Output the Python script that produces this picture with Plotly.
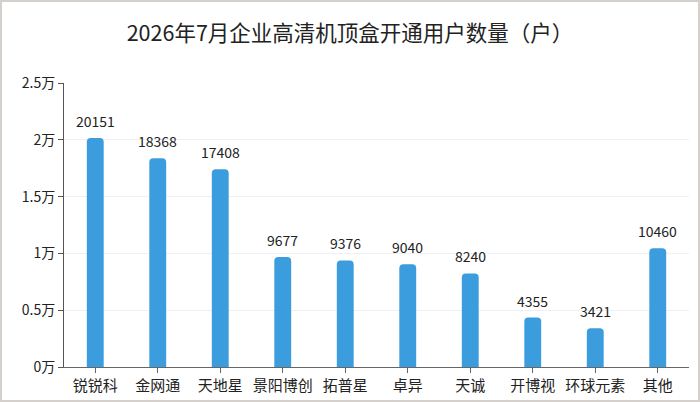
import plotly.graph_objects as go

# 企业高清机顶盒开通用户数量
companies = ['锐锐科', '金网通', '天地星', '景阳博创', '拓普星', '卓异', '天诚', '开博视', '环球元素', '其他']
users = [20151, 18368, 17408, 9677, 9376, 9040, 8240, 4355, 3421, 10460]

y_ticks = [0, 5000, 10000, 15000, 20000, 25000]
y_tick_text = ['0万', '0.5万', '1万', '1.5万', '2万', '2.5万']

W, H = 700, 402
L, R, T, B = 64, 11, 83, 35
pw, ph = W - L - R, H - T - B

fig = go.Figure(
    go.Bar(
        x=companies,
        y=users,
        width=0.27,
        marker=dict(color='#3b9ddd', line=dict(width=0)),
    )
)

# 数值标签
for name, val in zip(companies, users):
    fig.add_annotation(
        x=name, y=val, text=str(val), showarrow=False,
        yanchor='bottom', yshift=5,
        font=dict(size=14, color='#222'),
    )

fig.update_layout(
    width=W, height=H,
    margin=dict(l=L, r=R, t=T, b=B, autoexpand=False),
    paper_bgcolor='white', plot_bgcolor='white',
    font=dict(family='Noto Sans CJK SC', color='#222'),
    title=dict(text='2026年7月企业高清机顶盒开通用户数量（户）',
               x=0.5, xanchor='center', y=1 - 33 / H, yanchor='middle',
               font=dict(size=21.5, color='#222')),
    barcornerradius=4,
    showlegend=False,
)
fig.update_xaxes(
    automargin=False,
    showline=True, linecolor='#666', linewidth=1,
    ticks='outside', ticklen=5, tickcolor='#666',
    tickfont=dict(size=15, color='#222'),
    showgrid=False,
)
fig.update_yaxes(
    automargin=False,
    range=[0, 25000], tickvals=y_ticks, ticktext=y_tick_text,
    showline=True, linecolor='#555', linewidth=1,
    ticks='outside', ticklen=5, tickcolor='#555',
    tickfont=dict(size=14, color='#222'),
    gridcolor='#eef0f6', zeroline=False,
)

# 外框
fig.add_shape(
    type='rect', xref='paper', yref='paper',
    x0=-(L - 1) / pw, x1=1 + (R - 1) / pw,
    y0=-(B - 1) / ph, y1=1 + (T - 1) / ph,
    line=dict(color='#d6d0cd', width=2), layer='below',
)

fig.write_html('out.html', config={'displayModeBar': False},
               post_script="document.body.style.margin='0';")
